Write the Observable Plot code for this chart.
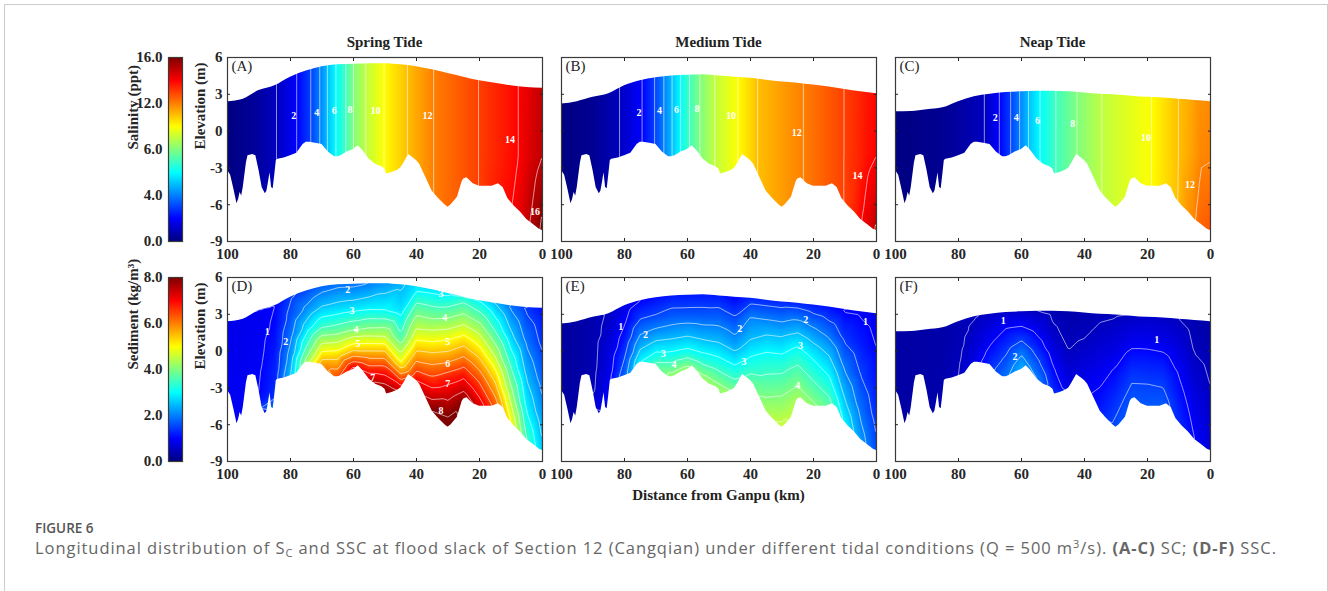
<!DOCTYPE html>
<html><head><meta charset="utf-8">
<script src="https://cdn.jsdelivr.net/npm/d3@7"></script>
<script src="https://cdn.jsdelivr.net/npm/@observablehq/plot@0.6"></script>
<style>
body{margin:0;background:#fff;}
#root{position:relative;width:1328px;height:591px;overflow:hidden;background:#fff;}
.abs{position:absolute;}
.serif{font-family:"Liberation Serif","Times New Roman",serif;font-weight:bold;color:#222;font-size:15px;line-height:15px;white-space:nowrap;}
.cap{font-family:"Open Sans",sans-serif;white-space:nowrap;}
</style></head><body><div id="root"></div>
<script>
// ---------- data ----------
const tideTitles = ["Spring Tide", "Medium Tide", "Neap Tide"];
const panelLetters = ["(A)", "(B)", "(C)", "(D)", "(E)", "(F)"];
const xTicks = [100, 80, 60, 40, 20, 0];
const yTicks = [6, 3, 0, -3, -6, -9];
const xDomain = [100, 0];
const yDomain = [-9, 6];

// bed elevation (m) along the channel (km from Ganpu)
const bedKm = [100,99,98,97,96.5,96,95.5,95,94.5,94,93.5,92,91,90,89,88,87.5,87,86.5,86,85.5,85,84.5,84,82,80,78,76,75,74,72,70,68,66,65,64,62,60,58.5,57,55,53,51,50,49.5,48,46,45,44,42.5,41,40,39,37,35,33,31,30,29,27,25.5,25,24,22,20,18,16,15,14,12.5,11,10,9,7,5,3,1,0];
const bedElev = [-3.2,-3.6,-4.7,-5.9,-5.6,-5.0,-5.3,-4.6,-3.6,-2.6,-2.0,-1.9,-2.0,-3.2,-4.6,-5.1,-4.9,-4.2,-3.4,-4.6,-4.7,-3.6,-2.4,-2.3,-2.2,-2.0,-1.8,-1.1,-0.9,-0.9,-1.0,-1.1,-1.7,-2.1,-2.1,-2.0,-1.7,-1.5,-1.2,-1.6,-2.3,-2.7,-2.9,-3.1,-3.5,-3.4,-3.2,-3.0,-2.6,-1.9,-2.2,-2.4,-2.7,-3.8,-4.9,-5.5,-6.0,-6.2,-6.0,-5.4,-4.1,-3.9,-3.8,-4.3,-4.5,-4.5,-4.5,-4.4,-4.3,-4.6,-5.5,-5.8,-6.1,-6.6,-7.2,-7.6,-8.0,-8.1];

// water surface (m) on a 5 km grid
const gridKm = [100,95,90,85,80,75,70,65,60,55,50,45,40,35,30,25,20,15,10,5,0];
const surfSpring = [2.4,2.6,3.3,3.7,4.4,4.9,5.25,5.4,5.45,5.5,5.5,5.4,5.25,5.0,4.7,4.4,4.1,3.9,3.7,3.55,3.5];
const surfMedium = [2.2,2.4,2.75,3.05,3.7,4.1,4.35,4.5,4.55,4.6,4.5,4.4,4.3,4.15,4.0,3.9,3.75,3.6,3.4,3.2,3.05];
const surfNeap = [1.57,1.6,1.75,1.9,2.4,2.8,3.0,3.15,3.2,3.25,3.25,3.2,3.1,3.0,2.95,2.85,2.75,2.7,2.6,2.5,2.4];

// salinity (ppt): positions of readings and values near the top (6 m), middle (-2 m) and bottom (-9 m)
const salRowZ = [6, -2, -9];
const salKmSpring = [100,92,84.4,78,73.5,70.7,68.3,65.6,62.4,60.1,56.1,50.3,42.9,34.6,20.3,10,7.6,5,2,0];
const salTopSpring = [0.05,0.4,1,2,3,4,5,6,7,8,9,10,11,12,13,13.8,14,14.3,14.7,14.95];
const salMidSpring = [0.05,0.4,1,2,3,4,5,6,7,8,9,10,11,12,13,13.8,14,14.4,14.8,15.0];
const salBotSpring = [0.05,0.4,1,2,3,4,5,6,7,8,9,10,11,12,13,14.1,14.45,14.95,15.7,16.6];
const salKmMedium = [100,90,81.5,74.4,70.4,67.5,64.9,62.2,59.4,56.1,51.4,44,37.8,23.2,10.3,5,3,1,0];
const salTopMedium = [0.05,0.3,1,2,3,4,5,6,7,8,9,10,11,12,13,13.45,13.65,13.85,13.95];
const salMidMedium = [0.05,0.3,1,2,3,4,5,6,7,8,9,10,11,12,13,13.5,13.75,13.92,14.0];
const salBotMedium = [0.05,0.3,1,2,3,4,5,6,7,8,9,10,11,12,13,14.1,14.6,15.0,15.4];
const salKmNeap = [100,85,71.7,67,63.4,60.6,57.8,54.1,49.1,42.4,34.5,18.7,10.2,5.5,3,0];
const salTopNeap = [0.05,0.3,1,2,3,4,5,6,7,8,9,10,11,11.4,11.6,11.8];
const salMidNeap = [0.05,0.3,1,2,3,4,5,6,7,8,9,10,11,11.5,11.9,11.95];
const salBotNeap = [0.05,0.3,1,2,3,4,5,6,7,8,9,10,11.05,12.0,12.6,12.8];

// sediment (kg/m3) on the 5 km grid at fractions of the water column (bed -> surface)
const sedFrac = [0, 0.25, 0.5, 0.75, 1];
const sedSpring = [
 [0.9,0.9,0.88,0.87,0.85],[0.92,0.9,0.88,0.87,0.85],[1.0,0.97,0.93,0.9,0.88],[1.35,1.25,1.15,1.05,1.0],
 [2.5,2.2,1.9,1.65,1.45],[4.2,3.4,2.7,2.1,1.6],[5.8,4.6,3.4,2.5,1.8],[6.4,5.2,3.8,2.7,1.9],
 [7.2,5.3,3.8,2.7,1.9],[7.4,5.8,4.2,2.9,2.0],[7.8,6.3,4.5,3.0,2.2],[7.2,5.0,3.6,2.8,2.4],
 [7.0,5.8,4.7,3.8,2.8],[8.0,6.7,5.4,4.05,2.85],[8.3,7.3,5.9,4.4,2.9],[7.8,6.8,5.6,4.4,3.25],
 [7.3,6.4,5.3,4.2,3.0],[6.3,5.4,4.4,3.4,2.5],[5.0,4.2,3.4,2.6,1.9],[3.5,2.9,2.4,1.9,1.4],[2.6,2.2,1.8,1.4,1.1]];
const sedMedium = [
 [0.25,0.25,0.25,0.25,0.25],[0.3,0.3,0.3,0.3,0.3],[0.45,0.42,0.4,0.38,0.36],[0.95,0.85,0.75,0.62,0.55],
 [1.8,1.5,1.2,0.97,0.8],[3.0,2.4,1.9,1.4,1.0],[3.6,2.8,2.1,1.5,1.1],[4.2,3.2,2.4,1.7,1.2],
 [4.2,3.1,2.35,1.65,1.2],[4.2,3.2,2.4,1.7,1.2],[4.2,3.3,2.5,1.8,1.2],[3.8,3.0,2.2,1.6,1.0],
 [3.7,3.1,2.5,2.05,1.3],[4.3,3.7,3.1,2.3,1.3],[4.6,4.0,3.3,2.4,1.3],[4.3,3.75,3.15,2.3,1.3],
 [4.1,3.5,2.9,2.1,1.2],[3.7,3.1,2.5,1.8,1.1],[2.9,2.4,1.9,1.4,0.95],[2.2,1.85,1.5,1.2,0.95],[1.6,1.35,1.15,1.0,0.85]];
const sedNeap = [
 [0.3,0.3,0.3,0.3,0.3],[0.3,0.3,0.3,0.3,0.3],[0.32,0.32,0.32,0.32,0.32],[0.35,0.35,0.34,0.33,0.33],
 [0.5,0.47,0.44,0.42,0.4],[0.8,0.7,0.62,0.55,0.48],[1.3,1.1,0.9,0.72,0.55],[1.9,1.6,1.3,1.0,0.6],
 [2.4,2.0,1.5,1.0,0.6],[2.0,1.6,1.2,0.85,0.5],[1.3,1.05,0.8,0.55,0.42],[0.8,0.65,0.5,0.42,0.35],
 [0.85,0.7,0.55,0.45,0.38],[1.2,1.0,0.8,0.6,0.45],[1.6,1.35,1.05,0.72,0.48],[1.65,1.45,1.15,0.8,0.55],
 [1.7,1.5,1.2,0.85,0.6],[1.7,1.45,1.15,0.8,0.58],[1.3,1.15,0.95,0.7,0.5],[1.0,0.85,0.65,0.48,0.38],[0.7,0.6,0.5,0.4,0.32]];

// contour levels and their labels [km, elevation, text]
const salThresholds = [1,2,3,4,5,6,7,8,9,10,11,12,13,14,15,16];
const sedThresholds = [0.5,1,1.5,2,2.5,3,3.5,4,4.5,5,5.5,6,6.5,7,7.5,8];
const labelsA = [[79.0,1.24,"2"],[71.7,1.5,"4"],[66.1,1.65,"6"],[61.1,1.73,"8"],[52.9,1.65,"10"],[36.5,1.24,"12"],[10.3,-0.74,"14"],[2.4,-6.6,"16"]];
const labelsB = [[75.4,1.5,"2"],[68.9,1.65,"4"],[63.5,1.73,"6"],[57.0,1.79,"8"],[46.2,1.24,"10"],[25.3,-0.11,"12"],[6.0,-3.65,"14"]];
const labelsC = [[68.3,1.1,"2"],[61.7,1.1,"4"],[54.9,0.84,"6"],[43.7,0.57,"8"],[20.5,-0.58,"10"],[6.5,-4.4,"12"]];
const labelsD = [[87.4,1.56,"1"],[81.5,0.75,"2"],[61.8,4.97,"2"],[32.2,4.64,"3"],[60.5,3.28,"3"],[31.0,2.73,"4"],[59.2,1.75,"4"],[30.1,0.75,"5"],[58.6,0.6,"5"],[30.1,-1.02,"6"],[53.9,-2.17,"7"],[30.1,-2.66,"7"],[32.2,-4.84,"8"]];
const labelsE = [[81.2,1.97,"1"],[73.3,1.29,"2"],[67.7,-0.26,"3"],[64.3,-1.08,"4"],[43.4,1.83,"2"],[42.1,-0.89,"3"],[22.5,2.52,"2"],[24.1,0.47,"3"],[25.0,-2.85,"4"],[3.5,2.38,"1"]];
const labelsF = [[65.8,2.43,"1"],[62.1,-0.48,"2"],[17.1,0.96,"1"]];

// colour bars
const jetColors = ["#00007f","#0000ff","#00ffff","#ffff00","#ff0000","#7f0000"];
const salDomain = [0,2,6,10,14,16];
const sedDomain = [0,1,3,5,7,8];
const salBarTicks = [0,4,8,12,16];
const salBarLabels = ["0.0","4.0","6.0","12.0","16.0"];
const sedBarTicks = [0,2,4,6,8];
const sedBarLabels = ["0.0","2.0","4.0","6.0","8.0"];

// ---------- helpers ----------
const bedData = bedKm.map((k, i) => ({k, z: bedElev[i]}));
const bedAt = k => bedElev[bedKm.indexOf(k)];
function sedSamples(surf, rows) {
  const out = [];
  gridKm.forEach((k, i) => {
    const b = bedAt(k), s = surf[i];
    sedFrac.forEach((f, j) => out.push({k, z: b + f * (s - b), v: rows[i][j]}));
  });
  return out;
}
function salSamples(km, top, mid, bot) {
  const out = [];
  km.forEach((k, i) => {
    out.push({k, z: salRowZ[0], v: top[i]}, {k, z: salRowZ[1], v: mid[i]}, {k, z: salRowZ[2], v: bot[i]});
  });
  return out;
}

const SERIF = "'Liberation Serif','Times New Roman',serif";
const FW = 315, FH = 184, ML = 45, MR = 15, MT = 8, MB = 25;
const baseStyle = {background: "transparent", fontFamily: SERIF, fontSize: "15px", fontWeight: "bold", color: "#262626", overflow: "visible"};

function panel(o) {
  const surfData = gridKm.map((k, i) => ({k, z: o.surf[i]}));
  const ext = {x1: xDomain[0], x2: xDomain[1], y1: yDomain[0], y2: yDomain[1]};
  const marks = [
    Plot.raster(o.samples, {x: "k", y: "z", fill: "v", interpolate: "barycentric", pixelSize: 1, ...ext}),
    Plot.contour(o.samples, {x: "k", y: "z", value: "v", interpolate: "barycentric", thresholds: o.thresholds, stroke: "white", strokeWidth: 0.7, strokeOpacity: 0.85, fill: "none", ...ext}),
    Plot.areaY(surfData, {x: "k", y1: "z", y2: yDomain[1], fill: "white", curve: "monotone-x"}),
    Plot.areaY(bedData, {x: "k", y1: "z", y2: yDomain[0], fill: "white"}),
    Plot.text(o.labels, {x: d => d[0], y: d => d[1], text: d => d[2], fill: "white", fontSize: 10}),
    Plot.frame({stroke: "#3a3a3a", strokeWidth: 1.2}),
    Plot.axisX(xTicks.slice(1, -1), {anchor: "bottom", tickSize: -3, tickFormat: () => "", label: null}),
    Plot.axisX(xTicks.slice(1, -1), {anchor: "top", tickSize: -3, tickFormat: () => "", label: null}),
    Plot.axisY(yTicks.slice(1, -1), {anchor: "left", tickSize: -3, tickFormat: () => "", label: null}),
    Plot.axisY(yTicks.slice(1, -1), {anchor: "right", tickSize: -3, tickFormat: () => "", label: null}),
    Plot.axisX(xTicks, {anchor: "bottom", tickSize: 0, tickPadding: 7, tickFormat: d => String(d), label: null, fontSize: 15}),
    Plot.text([o.letter], {frameAnchor: "top-left", dx: 4, dy: 3, text: d => d, textAnchor: "start", lineAnchor: "top", fontSize: 15, fontWeight: "normal"})
  ];
  if (o.showY) {
    marks.push(Plot.axisY(yTicks, {anchor: "left", tickSize: 0, tickPadding: 5, tickFormat: d => String(d), label: null, fontSize: 15}));
    marks.push(Plot.text(["Elevation (m)"], {frameAnchor: "left", rotate: -90, dx: -27, text: d => d, fontSize: 15}));
  }
  return Plot.plot({
    width: ML + FW + MR, height: MT + FH + MB,
    marginLeft: ML, marginRight: MR, marginTop: MT, marginBottom: MB,
    style: baseStyle,
    x: {domain: xDomain, axis: null}, y: {domain: yDomain, axis: null},
    color: {type: "linear", domain: o.cDomain, range: jetColors, clamp: true},
    marks
  });
}

function colorbar(o) {
  const max = o.cDomain[o.cDomain.length - 1];
  return Plot.plot({
    width: 60 + 14 + 4, height: MT + FH + MB,
    marginLeft: 60, marginRight: 4, marginTop: MT, marginBottom: MB,
    style: baseStyle,
    x: {domain: [0, 1], axis: null}, y: {domain: [0, max], axis: null},
    color: {type: "linear", domain: o.cDomain, range: jetColors, clamp: true},
    marks: [
      Plot.raster({fill: (x, y) => y, x1: 0, x2: 1, y1: 0, y2: max, width: 1, height: FH}),
      Plot.frame({stroke: "#3a3a3a", strokeWidth: 1.2}),
      Plot.axisY(o.ticks, {anchor: "left", tickSize: 0, tickPadding: 6, tickFormat: d => o.tickLabels[o.ticks.indexOf(d)], label: null, fontSize: 15}),
      Plot.text([o.label], {frameAnchor: "left", rotate: -90, dx: -35, text: d => d, fontSize: 15})
    ]
  });
}

// ---------- layout ----------
const root = document.getElementById("root");
function place(el, left, top) {
  const wrap = document.createElement("div");
  wrap.className = "abs";
  wrap.style.left = left + "px";
  wrap.style.top = top + "px";
  wrap.appendChild(el);
  root.appendChild(wrap);
}
function addText(html, cls, left, top, extra) {
  const d = document.createElement("div");
  d.className = "abs " + cls;
  d.style.left = left + "px";
  d.style.top = top + "px";
  if (extra) Object.assign(d.style, extra);
  d.innerHTML = html;
  root.appendChild(d);
  return d;
}

// outer border
const border = document.createElement("div");
border.className = "abs";
Object.assign(border.style, {left: "4px", top: "4px", width: "1324px", height: "700px", border: "1px solid #cccccc", boxSizing: "border-box"});
root.appendChild(border);

const frameLefts = [227, 561, 895];
const frameTops = [57, 277];
const surfs = [surfSpring, surfMedium, surfNeap];
const salSets = [
  salSamples(salKmSpring, salTopSpring, salMidSpring, salBotSpring),
  salSamples(salKmMedium, salTopMedium, salMidMedium, salBotMedium),
  salSamples(salKmNeap, salTopNeap, salMidNeap, salBotNeap)
];
const sedSets = [sedSamples(surfSpring, sedSpring), sedSamples(surfMedium, sedMedium), sedSamples(surfNeap, sedNeap)];
const salLabels = [labelsA, labelsB, labelsC];
const sedLabels = [labelsD, labelsE, labelsF];

for (let c = 0; c < 3; c++) {
  place(panel({surf: surfs[c], samples: salSets[c], thresholds: salThresholds, labels: salLabels[c], letter: panelLetters[c], cDomain: salDomain, showY: c === 0}), frameLefts[c] - ML, frameTops[0] - MT);
  place(panel({surf: surfs[c], samples: sedSets[c], thresholds: sedThresholds, labels: sedLabels[c], letter: panelLetters[c + 3], cDomain: sedDomain, showY: c === 0}), frameLefts[c] - ML, frameTops[1] - MT);
  addText(tideTitles[c], "serif", frameLefts[c] + FW / 2, 35, {transform: "translateX(-50%)"});
}
place(colorbar({cDomain: salDomain, ticks: salBarTicks, tickLabels: salBarLabels, label: "Salinity (ppt)"}), 168 - 60, frameTops[0] - MT);
place(colorbar({cDomain: sedDomain, ticks: sedBarTicks, tickLabels: sedBarLabels, label: "Sediment (kg/m³)"}), 168 - 60, frameTops[1] - MT);

addText("Distance from Ganpu (km)", "serif", frameLefts[1] + FW / 2, 488, {transform: "translateX(-50%)"});
addText("FIGURE 6", "cap", 35, 522, {fontSize: "13.5px", lineHeight: "12px", fontWeight: "600", color: "#555"});
const cap = addText("Longitudinal distribution of S<sub style='font-size:11px;line-height:0;vertical-align:-3px'>C</sub> and SSC at flood slack of Section 12 (Cangqian) under different tidal conditions (Q = 500 m<sup style='font-size:11px;line-height:0;vertical-align:6px'>3</sup>/s). <b style='font-weight:700'>(A-C)</b> SC; <b style='font-weight:700'>(D-F)</b> SSC.", "cap", 35, 541, {fontSize: "16.5px", lineHeight: "14px", fontWeight: "400", color: "#666"});
// stretch the caption to the reference width
const capTarget = 1241;
const capW = cap.getBoundingClientRect().width;
const nChars = cap.textContent.length;
if (capW > 0 && nChars > 1) cap.style.letterSpacing = ((capTarget - capW) / (nChars - 1)) + "px";
</script></body></html>
